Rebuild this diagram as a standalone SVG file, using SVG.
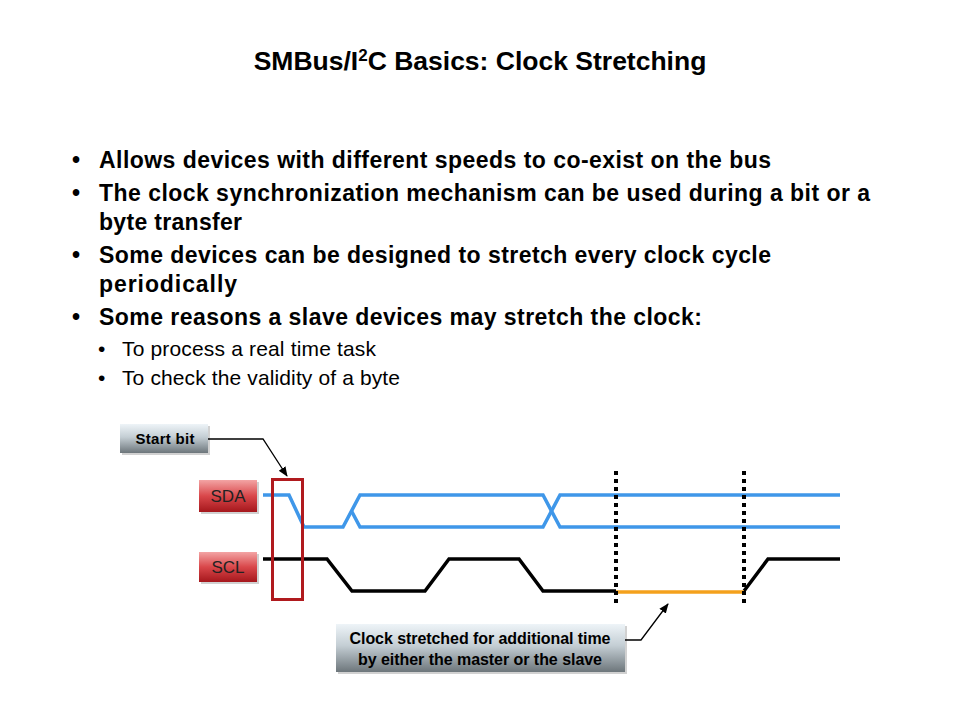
<svg xmlns="http://www.w3.org/2000/svg" width="960" height="720" viewBox="0 0 960 720">
<defs>
<linearGradient id="gGray" x1="0" y1="0" x2="0" y2="1">
<stop offset="0" stop-color="#eef4f8"/><stop offset="0.45" stop-color="#c4ced4"/><stop offset="1" stop-color="#6d767b"/>
</linearGradient>
<linearGradient id="gRed" x1="0" y1="0" x2="0" y2="1">
<stop offset="0" stop-color="#f3a4a4"/><stop offset="0.5" stop-color="#d9474a"/><stop offset="1" stop-color="#a5171c"/>
</linearGradient>
<marker id="arr" markerWidth="10" markerHeight="10" refX="9" refY="5" orient="auto" markerUnits="userSpaceOnUse">
<path d="M0,1 L10,5 L0,9 Z" fill="#000"/>
</marker>
<style>
text{font-family:"Liberation Sans",Arial,sans-serif;fill:#000}
.t{font-weight:bold;font-size:26.5px}
.b{font-weight:bold;font-size:23px}
.s{font-size:21px}
.lbl{font-weight:bold;font-size:15px;text-anchor:middle}
.cl{font-weight:bold;font-size:16px;text-anchor:middle}
.sig{font-size:17px;text-anchor:middle;fill:#222}
.sda{fill:none;stroke:#3f97e9;stroke-width:3.5;stroke-linejoin:miter}
.scl{fill:none;stroke:#000;stroke-width:3.5}
.dot{stroke:#000;stroke-width:4;stroke-dasharray:4 4}
.lead{fill:none;stroke:#000;stroke-width:1.3}
.shadow{fill:#000;opacity:0.18}
</style>
</defs>
<rect width="960" height="720" fill="#fff"/>
<g id="title">
<text x="480" y="70" class="t" text-anchor="middle">SMBus/I<tspan dy="-9" style="font-size:17px">2</tspan><tspan dy="9">C Basics: Clock Stretching</tspan></text>
</g>
<g id="bullets">
<text x="72" y="168" class="b">•</text><text x="99" y="168" class="b" textLength="672" lengthAdjust="spacing">Allows devices with different speeds to co-exist on the bus</text>
<text x="72" y="201" class="b">•</text><text x="99" y="201" class="b" textLength="771" lengthAdjust="spacing">The clock synchronization mechanism can be used during a bit or a</text>
<text x="99" y="230" class="b" textLength="143" lengthAdjust="spacing">byte transfer</text>
<text x="72" y="263" class="b">•</text><text x="99" y="263" class="b" textLength="672" lengthAdjust="spacing">Some devices can be designed to stretch every clock cycle</text>
<text x="99" y="292" class="b" textLength="138" lengthAdjust="spacing">periodically</text>
<text x="72" y="325" class="b">•</text><text x="99" y="325" class="b" textLength="603" lengthAdjust="spacing">Some reasons a slave devices may stretch the clock:</text>
<text x="98" y="356" class="s">•</text><text x="122" y="356" class="s" textLength="254" lengthAdjust="spacing">To process a real time task</text>
<text x="98" y="385" class="s">•</text><text x="122" y="385" class="s" textLength="278" lengthAdjust="spacing">To check the validity of a byte</text>
</g>
<g id="connectors">
<polyline class="lead" points="208,439 263,439 287,476" marker-end="url(#arr)"/>
<polyline class="lead" points="625,640 641,640 668,604" marker-end="url(#arr)"/>
</g>
<g id="start-bit"><rect x="122" y="426" width="88" height="29" class="shadow"/><rect x="120" y="424" width="88" height="29" fill="url(#gGray)"/><text x="165" y="444" class="lbl" textLength="59" lengthAdjust="spacing">Start bit</text></g>
<g id="sda-label"><rect x="201" y="482" width="58" height="32" class="shadow"/><rect x="199" y="480" width="58" height="32" fill="url(#gRed)"/><text x="228" y="502" class="sig">SDA</text></g>
<g id="scl-label"><rect x="201" y="554" width="58" height="30" class="shadow"/><rect x="199" y="552" width="58" height="30" fill="url(#gRed)"/><text x="228" y="573" class="sig">SCL</text></g>
<g id="sda-signal">
<polyline class="sda" points="263,495 289,495 304,527 343,527 360,495 543,495 560,527 840,527"/>
<polyline class="sda" points="351.5,511 360,527 543,527 560,495 840,495"/>
</g>
<g id="scl-signal">
<polyline class="scl" points="263,559 327,559 352,591 425,591 449,559 519,559 543,591 616,591"/>
<polyline class="scl" points="744,591 768,559 840,559"/>
<line x1="616" y1="592" x2="744" y2="592" stroke="#f4a11c" stroke-width="3.5"/>
</g>
<g id="stretch-markers">
<line class="dot" x1="616" y1="471" x2="616" y2="605"/>
<line class="dot" x1="744" y1="471" x2="744" y2="605"/>
</g>
<g id="start-box"><rect x="272.5" y="479.5" width="30" height="120" fill="none" stroke="#b01a1e" stroke-width="3"/></g>
<g id="stretch-callout"><rect x="338" y="626" width="289" height="48" class="shadow"/><rect x="336" y="624" width="289" height="48" fill="url(#gGray)"/>
<text x="480" y="644" class="cl" textLength="261" lengthAdjust="spacing">Clock stretched for additional time</text>
<text x="480" y="665" class="cl" textLength="244" lengthAdjust="spacing">by either the master or the slave</text></g>
</svg>
